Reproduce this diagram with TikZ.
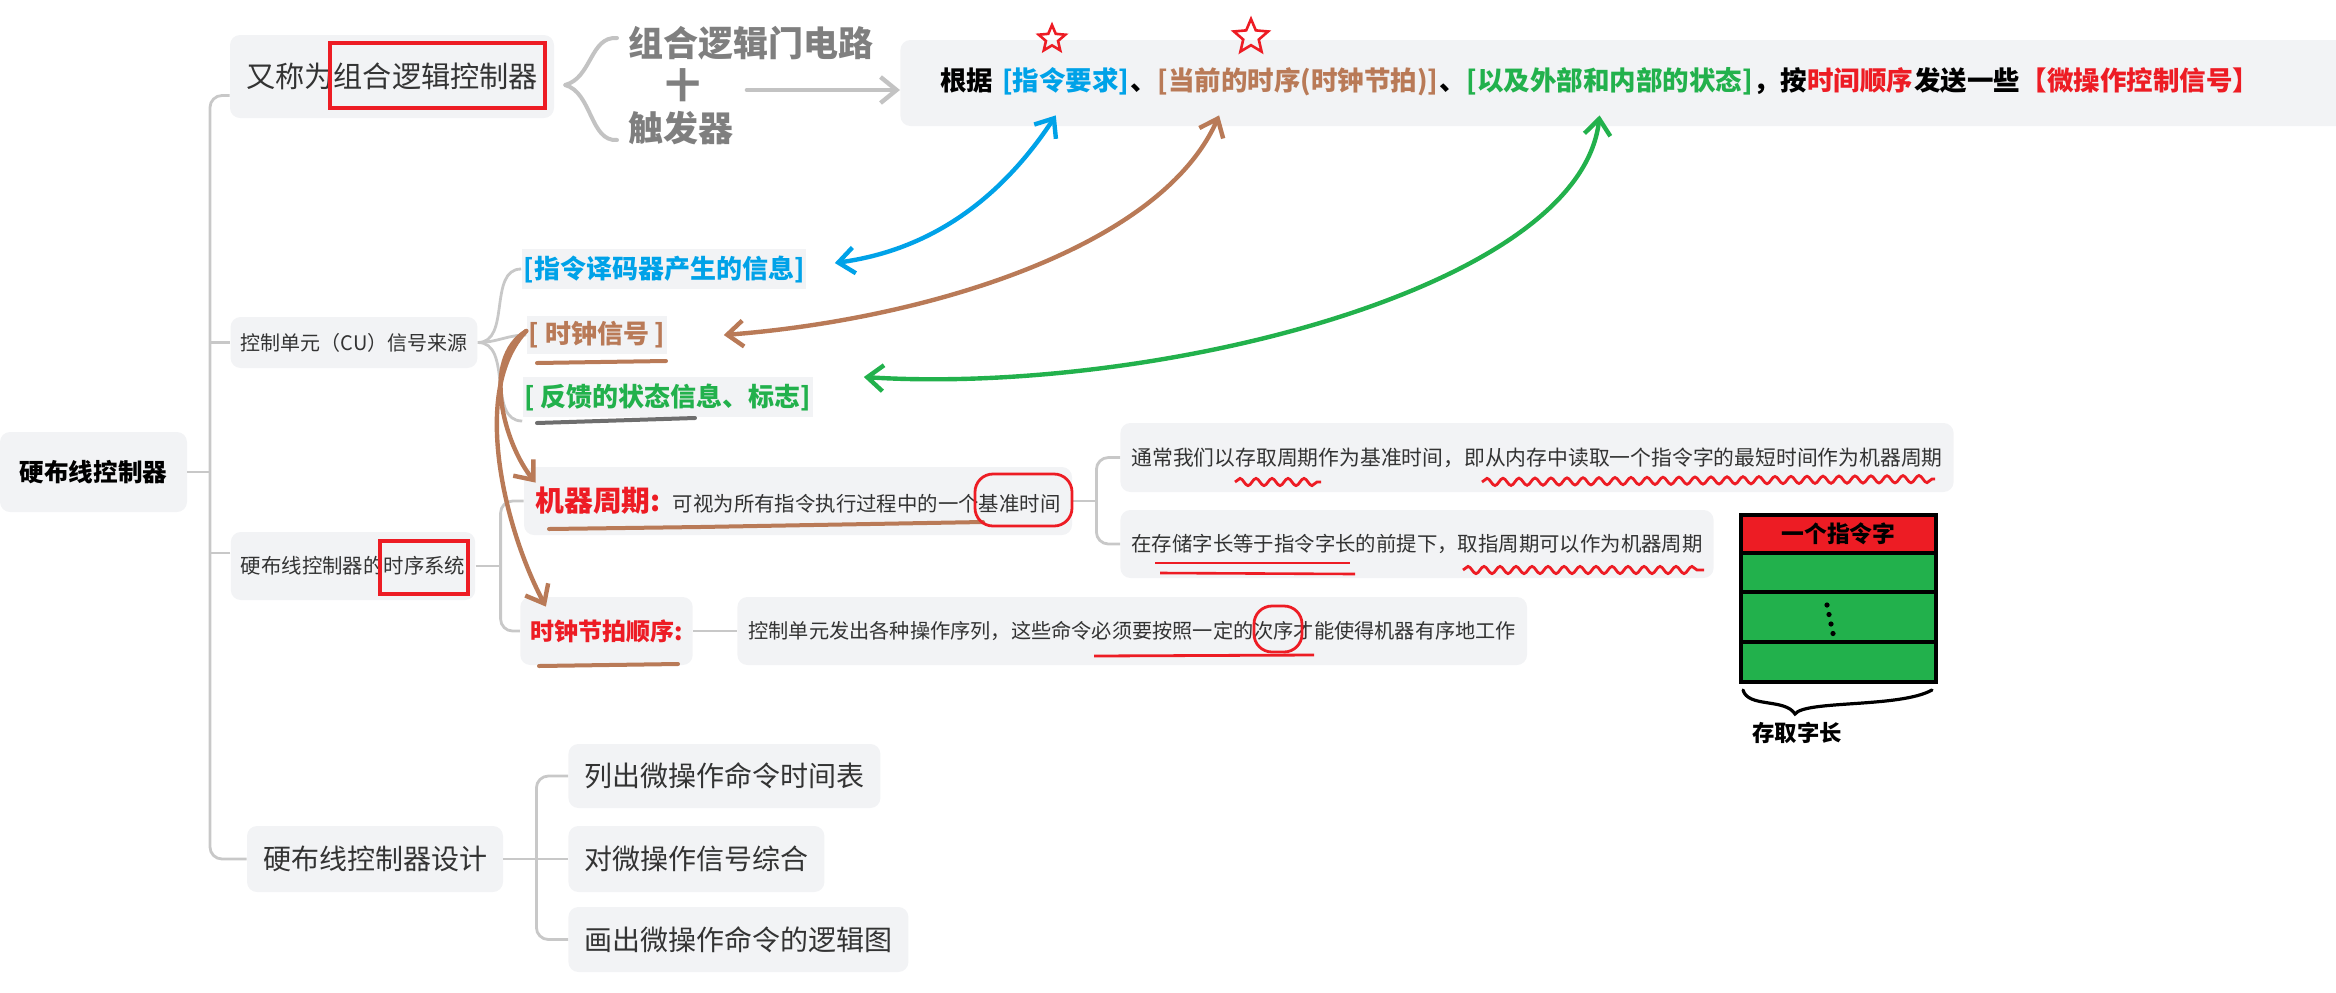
\documentclass[tikz,border=0pt]{standalone}
\usepackage{fontspec}
\setmainfont{Noto Sans CJK SC}
\usepackage{tikz}
\usetikzlibrary{shapes.geometric, arrows.meta, positioning, decorations.pathmorphing}
\definecolor{mapbg}{HTML}{F2F3F5}
\definecolor{mapline}{HTML}{C8C8C8}
\definecolor{maptext}{HTML}{333333}
\definecolor{penblue}{HTML}{00A2E8}
\definecolor{penbrown}{HTML}{B97A57}
\definecolor{pengreen}{HTML}{22B14C}
\definecolor{penred}{HTML}{ED1C24}
\definecolor{pengrey}{HTML}{7F7F7F}
\definecolor{penlight}{HTML}{C3C3C3}
\definecolor{pendark}{HTML}{6E6E6E}
\newcommand{\mapfs}[1]{\fontsize{#1}{#1}\selectfont}

\begin{document}
\begin{tikzpicture}[x=0.5pt, y=-0.5pt,
  topic/.style={fill=mapbg, rounded corners=5pt, text=maptext, align=center, inner xsep=5pt},
  tag/.style={fill=mapbg, inner xsep=1pt, inner ysep=3pt, font=\mapfs{13}\bfseries},
  sent/.style={inner sep=0pt, text height=10pt, text depth=3pt, font=\mapfs{13.25}\bfseries},
  grey/.style={inner sep=0pt, text=pengrey, font=\mapfs{17.5}\bfseries},
  link/.style={draw=mapline, line width=1.4pt, rounded corners=6pt},
  hand/.style={line width=2.2pt, line cap=round, line join=round, >={Straight Barb[length=8pt,width=13pt]}},
  redbox/.style={draw=penred, line width=1.6pt},
  ring/.style={draw=penred, line width=1.4pt, rounded corners=9pt},
  wavy/.style={draw=penred, line width=1.4pt, decorate, decoration={snake, amplitude=1.8pt, segment length=8pt}},
  pentip/.style={star, star points=5, star point ratio=2.2, draw=penred, line width=1.3pt, inner sep=0pt},
  cell/.style={draw=black, line width=2pt, fill=pengreen, minimum width=97.5pt, inner sep=0pt, outer sep=0pt, font=\mapfs{11.4}\bfseries}]
  \useasboundingbox (0,0) rectangle (2336,992);

  % main branches
  \node[topic, font=\mapfs{12.3}\bfseries, text=black, minimum width=93.5pt, minimum height=40pt] (root) at (93.5,472) {硬布线控制器};
  \node[topic, font=\mapfs{14.6}, minimum width=162pt, minimum height=41.5pt] (alias) at (392,76.5) {又称为组合逻辑控制器};
  \node[topic, font=\mapfs{10}, minimum width=122pt, minimum height=25.5pt] (cu) at (354,342.5) {控制单元（CU）信号来源};
  \node[topic, font=\mapfs{10.2}, minimum width=122pt, minimum height=34pt] (seqsys) at (353,566) {硬布线控制器的时序系统};
  \node[topic, font=\mapfs{14}, minimum width=128pt, minimum height=33pt] (design) at (375,859) {硬布线控制器设计};

  % combinational logic
  \node[grey, anchor=west] (gate) at (628,43) {组合逻辑门电路};
  \node[grey] (plus) at (683,85) {十};
  \node[grey, anchor=west] (ff) at (628,128) {触发器};

  % the sentence
  \node[topic, anchor=west, minimum width=730pt, minimum height=43pt] (need) at (900,83) {};
  \node[sent, right=20pt of need.west] (s0) {根据};
  \node[sent, right=4pt of s0, text=penblue] (ask) {[指令要求]};
  \node[sent, right=0pt of ask] (s1) {、};
  \node[sent, right=0pt of s1, text=penbrown] (clock) {[当前的时序(时钟节拍)]};
  \node[sent, right=0pt of clock] (s2) {、};
  \node[sent, right=0pt of s2, text=pengreen] (state) {[以及外部和内部的状态]};
  \node[sent, right=0pt of state] (s3) {，按};
  \node[sent, right=0pt of s3, text=penred] (order) {时间顺序};
  \node[sent, right=0pt of order] (s4) {发送一些};
  \node[sent, right=0pt of s4, text=penred] (sig) {【微操作控制信号】};
  \node[pentip, minimum size=14pt] (star1) at (1052,39) {};
  \node[pentip, minimum size=18pt] (star2) at (1251,37) {};

  % signal sources
  \node[tag, text=penblue] (decode) at (664,269) {[指令译码器产生的信息]};
  \node[tag, text=penbrown] (clk) at (597,335) {[ 时钟信号 ]};
  \node[tag, text=pengreen] (fb) at (668,397) {[ 反馈的状态信息、标志]};

  % timing system
  \node[topic, font=\mapfs{10.2}, minimum width=274pt, minimum height=34pt] (mc) at (798,501)
    {{\color{penred}\bfseries\mapfs{14.4}机器周期:}\hspace{6pt}可视为所有指令执行过程中的一个基准时间};
  \node[topic, font=\mapfs{12}\bfseries, text=penred, minimum width=82.5pt, minimum height=34pt] (beat) at (606.5,631) {时钟节拍顺序:};
  \node[topic, anchor=west, font=\mapfs{10.1}, inner xsep=5.5pt, minimum height=34pt] (ctrl) at (737,631)
    {控制单元发出各种操作序列，这些命令必须要按照一定的次序才能使得机器有序地工作};
  \node[topic, anchor=west, font=\mapfs{10.4}, inner xsep=5.5pt, minimum height=34.5pt] (usual) at (1120,457.5)
    {通常我们以存取周期作为基准时间，即从内存中读取一个指令字的最短时间作为机器周期};
  \node[topic, anchor=west, font=\mapfs{10.2}, inner xsep=5.5pt, minimum height=34pt] (store) at (1120,544)
    {在存储字长等于指令字长的前提下，取指周期可以作为机器周期};

  % design steps
  \node[topic, anchor=west, font=\mapfs{14}, inner xsep=8pt, minimum height=32pt] (list) at (568,776) {列出微操作命令时间表};
  \node[topic, anchor=west, font=\mapfs{14}, inner xsep=8pt, minimum height=33pt] (synth) at (568,859) {对微操作信号综合};
  \node[topic, anchor=west, font=\mapfs{14}, inner xsep=8pt, minimum height=32.5pt] (logic) at (568,939.5) {画出微操作命令的逻辑图};

  % word stack
  \node[cell, fill=penred, minimum height=19pt] (word) at (1838.5,534) {一个指令字};
  \node[cell, below=0pt of word, minimum height=19.5pt] (g1) {};
  \node[cell, below=0pt of g1, minimum height=25pt] (g2) {};
  \node[cell, below=0pt of g2, minimum height=20pt] (g3) {};
  \node[font=\mapfs{11.2}\bfseries, inner sep=0pt] (wlen) at (1797,733) {存取字长};
  \foreach \i in {0,...,3}
    \fill ({1827+2*\i},{605+9.5*\i}) circle (1.3pt);
  \draw[line width=1.6pt, line cap=round] (1743,690) .. controls (1748,708) and (1785,698) .. (1795,714)
    .. controls (1805,700) and (1900,708) .. (1932,690);

  % mind map links
  \coordinate (trunk) at (210,472);
  \draw[link] (root.east) -- (trunk);
  \draw[link] ([yshift=-9.5pt]alias.west) -| (trunk) |- (design.west);
  \draw[link] (cu.west) -- (cu.west -| trunk);
  \draw[link] ([yshift=6.5pt]seqsys.west) -- ([yshift=6.5pt]seqsys.west -| trunk);
  \draw[link] (cu.east) to[out=0, in=180] (decode.west);
  \draw[link] (cu.east) to[out=0, in=180] (clk.west);
  \draw[link] (cu.east) to[out=0, in=180] ([yshift=-12pt]fb.west);
  \draw[link] (seqsys.east) -- ++(25,0) coordinate (sj);
  \draw[link] (mc.west) -| (sj) |- (beat.west);
  \draw[link] (mc.east) -- ++(24,0) coordinate (mj);
  \draw[link] (usual.west) -| (mj) |- (store.west);
  \draw[link] (beat) -- (ctrl);
  \draw[link] (design.east) -- ++(33,0) coordinate (dj);
  \draw[link] (list.west) -| (dj) |- (logic.west);
  \draw[link] (dj) -- (synth.west);

  % pen marks
  \draw[redbox] (330,43) rectangle (545,108);
  \draw[redbox] (380,541) rectangle (468,594);
  \draw[hand, draw=penlight, line width=2pt] (617,38) .. controls (590,36) and (592,78) .. (565,85)
    .. controls (592,92) and (590,142) .. (617,140);
  \draw[hand, draw=penlight, ->] ([xshift=23pt,yshift=-2.5pt]plus.east) -- ([yshift=-3.5pt]need.west);
  \draw[hand, draw=penblue, <->] ([xshift=14pt,yshift=3pt]decode.east) .. controls (930,250) and (1000,200)
    .. ([xshift=-5pt,yshift=-9.5pt]ask.south);
  \draw[hand, draw=penbrown, <->] ([xshift=28pt]clk.east) .. controls (920,320) and (1160,250)
    .. ([xshift=31pt,yshift=-9.5pt]clock.south west);
  \draw[hand, draw=pengreen, <->] ([xshift=25pt,yshift=10pt]fb.east) .. controls (1150,395) and (1580,290)
    .. ([xshift=-5pt,yshift=-9.5pt]state.south);
  \draw[hand, draw=penbrown, ->] ([yshift=2pt]clk.west) .. controls (480,360) and (505,445)
    .. ([xshift=6pt,yshift=-8pt]mc.north west);
  \draw[hand, draw=penbrown, ->] ([yshift=2pt]clk.west) .. controls (470,390) and (505,530)
    .. ([xshift=13pt,yshift=-5pt]beat.north west);
  \draw[hand, draw=penbrown, line width=2pt] (537,363) -- (600,362) -- (666,361);
  \draw[hand, draw=pendark, line width=2pt] (537,423) -- (600,421) -- (695,418);
  \draw[hand, draw=penbrown, line width=2pt] (549,529) -- (700,527) -- (983,522);
  \draw[hand, draw=penbrown, line width=2pt] (539,666) -- (678,664);
  \draw[ring] (975,474) rectangle (1072,526);
  \draw[ring] (1254,606) rectangle (1302,652);
  \draw[redbox, line width=1.4pt] (1094,656) -- (1314,655);
  \draw[wavy] (1235,482) -- (1321,482);
  \draw[wavy] (1482,482) -- (1935,479);
  \draw[redbox, line width=1.3pt] (1155,563) -- (1350,563);
  \draw[redbox, line width=1.3pt] (1160,573) -- (1355,574);
  \draw[wavy] (1463,570) -- (1704,570);
\end{tikzpicture}
\end{document}
